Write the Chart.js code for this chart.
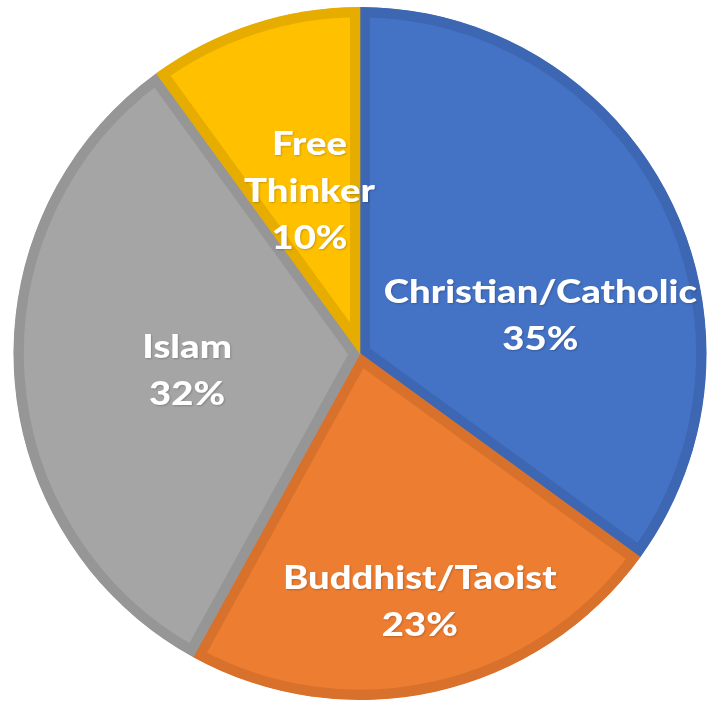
<!DOCTYPE html>
<html>
<head>
<meta charset="utf-8">
<script src="https://cdn.jsdelivr.net/npm/chart.js@4"></script>
<style>
  html, body { margin: 0; padding: 0; background: #ffffff; }
  #wrap { width: 708px; height: 704px; }
</style>
</head>
<body>
<div id="wrap"><canvas id="pie"></canvas></div>
<script>
const categories = ["Christian/Catholic", "Buddhist/Taoist", "Islam", "Free Thinker"];
const shares = [35, 23, 32, 10];
const labelLines = [["Christian/Catholic"], ["Buddhist/Taoist"], ["Islam"], ["Free", "Thinker"]];

const fills = ["#4472c4", "#ed7d31", "#a5a5a5", "#ffc000"];
const borders = ["#3d67b3", "#d8712c", "#969696", "#e6ad00"];
// nudge from each slice's centre point to where the label sits
const labelOffsets = [[26, 41], [22, 79], [0, 6], [3, 3]];
const textStretch = 1.16;

const sliceLabels = {
  id: "sliceLabels",
  afterDatasetsDraw(chart) {
    const ctx = chart.ctx;
    const meta = chart.getDatasetMeta(0);
    meta.data.forEach((arc, i) => {
      const p = arc.getCenterPoint();
      const lines = labelLines[i].concat([shares[i] + "%"]);
      const lh = 47;
      const x = p.x + labelOffsets[i][0];
      const y0 = p.y + labelOffsets[i][1] - ((lines.length - 1) * lh) / 2;
      ctx.save();
      ctx.translate(x, 0);
      ctx.scale(textStretch, 1);
      ctx.font = "900 33px Lato";
      ctx.fillStyle = "#ffffff";
      ctx.textAlign = "center";
      ctx.textBaseline = "middle";
      ctx.shadowColor = "rgba(0,0,0,0.2)";
      ctx.shadowBlur = 2;
      ctx.shadowOffsetX = 1;
      ctx.shadowOffsetY = 1;
      lines.forEach((t, k) => ctx.fillText(t, 0, y0 + k * lh));
      ctx.restore();
    });
  },
};

new Chart(document.getElementById("pie"), {
  type: "pie",
  data: {
    labels: categories,
    datasets: [
      {
        data: shares,
        backgroundColor: fills,
        borderColor: borders,
        borderWidth: 10,
        borderAlign: "inner",
      },
    ],
  },
  options: {
    responsive: true,
    maintainAspectRatio: false,
    animation: false,
    layout: { padding: { left: 12, right: 0, top: 7, bottom: 4 } },
    plugins: {
      legend: { display: false },
      tooltip: { enabled: false },
    },
  },
  plugins: [sliceLabels],
});
</script>
</body>
</html>
